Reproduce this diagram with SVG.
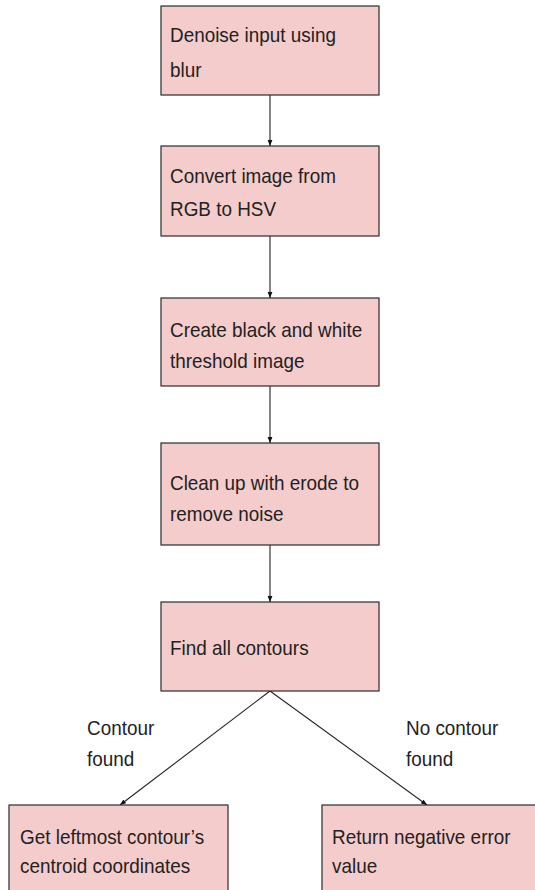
<svg xmlns="http://www.w3.org/2000/svg" width="535" height="890" viewBox="0 0 535 890">
<style>
.box{fill:#f4cccc;stroke:#2b2b2b;stroke-width:1.2}
.t{font-family:"Liberation Sans",Arial,sans-serif;font-size:21px;fill:#222}
.c{stroke:#222;stroke-width:1.1;fill:none}
</style>
<defs>
<marker id="ah" viewBox="0 0 10 10" refX="10" refY="5" markerWidth="6" markerHeight="6" orient="auto" markerUnits="userSpaceOnUse">
<path d="M0,1 L10,5 L0,9 z" fill="#111"/>
</marker>
</defs>
<rect width="535" height="890" fill="#ffffff"/>
<g id="connectors">
<line class="c" x1="270" y1="95" x2="270" y2="146" marker-end="url(#ah)"/>
<line class="c" x1="270" y1="236" x2="270" y2="298" marker-end="url(#ah)"/>
<line class="c" x1="270" y1="386" x2="270" y2="443" marker-end="url(#ah)"/>
<line class="c" x1="270" y1="545" x2="270" y2="602" marker-end="url(#ah)"/>
<line class="c" x1="270" y1="691" x2="120" y2="805" marker-end="url(#ah)"/>
<line class="c" x1="270" y1="691" x2="427" y2="805" marker-end="url(#ah)"/>
<text class="t" transform="translate(87 735) scale(0.9 1)"><tspan x="0" y="0">Contour</tspan><tspan x="0" y="31">found</tspan></text>
<text class="t" transform="translate(406 735) scale(0.9 1)"><tspan x="0" y="0">No contour</tspan><tspan x="0" y="31">found</tspan></text>
</g>
<g id="n1">
<rect class="box" x="161" y="6" width="218" height="89"/>
<text class="t" transform="translate(170 42) scale(0.9 1)"><tspan x="0" y="0">Denoise input using</tspan><tspan x="0" y="35">blur</tspan></text>
</g>
<g id="n2">
<rect class="box" x="161" y="146" width="218" height="90"/>
<text class="t" transform="translate(170 183) scale(0.9 1)"><tspan x="0" y="0">Convert image from</tspan><tspan x="0" y="33">RGB to HSV</tspan></text>
</g>
<g id="n3">
<rect class="box" x="161" y="298" width="218" height="88"/>
<text class="t" transform="translate(170 337) scale(0.9 1)"><tspan x="0" y="0">Create black and white</tspan><tspan x="0" y="31">threshold image</tspan></text>
</g>
<g id="n4">
<rect class="box" x="161" y="443" width="218" height="102"/>
<text class="t" transform="translate(170 490) scale(0.9 1)"><tspan x="0" y="0">Clean up with erode to</tspan><tspan x="0" y="31">remove noise</tspan></text>
</g>
<g id="n5">
<rect class="box" x="161" y="602" width="218" height="89"/>
<text class="t" transform="translate(170 655) scale(0.9 1)">Find all contours</text>
</g>
<g id="n6">
<rect class="box" x="9" y="805" width="219" height="95"/>
<text class="t" transform="translate(20 844) scale(0.9 1)"><tspan x="0" y="0">Get leftmost contour’s</tspan><tspan x="0" y="29">centroid coordinates</tspan></text>
</g>
<g id="n7">
<rect class="box" x="322" y="805" width="230" height="95"/>
<text class="t" transform="translate(332 844) scale(0.9 1)"><tspan x="0" y="0">Return negative error</tspan><tspan x="0" y="29">value</tspan></text>
</g>
</svg>
